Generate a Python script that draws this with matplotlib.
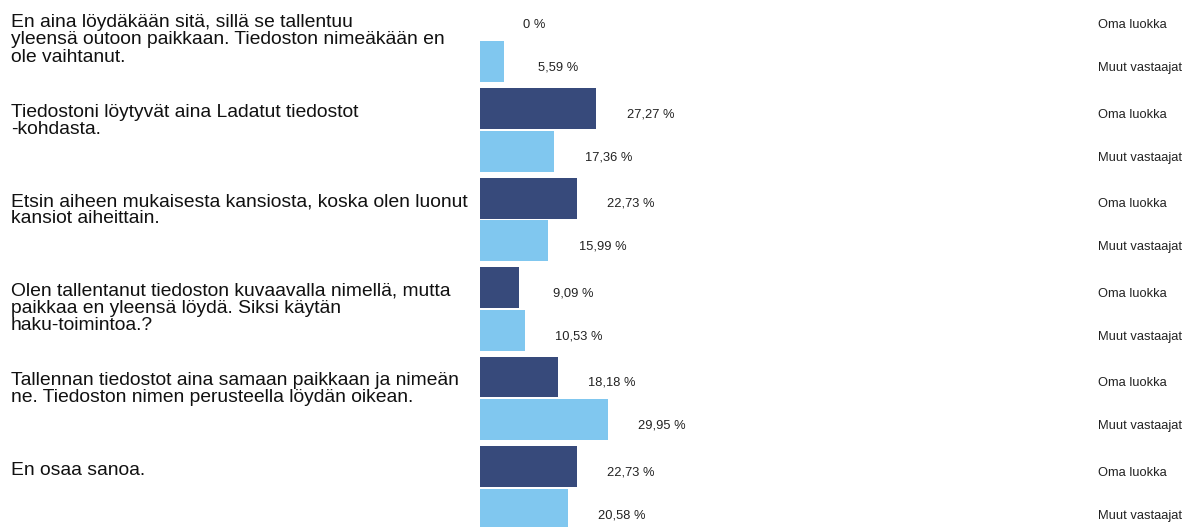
import numpy as np
import matplotlib
matplotlib.use("Agg")
from matplotlib import pyplot as plt
import matplotlib.transforms as mtransforms

plt.rcParams['font.family'] = ['Liberation Sans', 'DejaVu Sans']

# Answer options and the share (%) for the own class vs. other respondents
categories = [
    "En aina löydäkään sitä, sillä se tallentuu\nyleensä outoon paikkaan. Tiedoston nimeäkään en\nole vaihtanut.",
    "Tiedostoni löytyvät aina Ladatut tiedostot\n-kohdasta.",
    "Etsin aiheen mukaisesta kansiosta, koska olen luonut\nkansiot aiheittain.",
    "Olen tallentanut tiedoston kuvaavalla nimellä, mutta\npaikkaa en yleensä löydä. Siksi käytän\nhaku-toimintoa.?",
    "Tallennan tiedostot aina samaan paikkaan ja nimeän\nne. Tiedoston nimen perusteella löydän oikean.",
    "En osaa sanoa.",
]
own_class = [0, 27.27, 22.73, 9.09, 18.18, 22.73]
others = [5.59, 17.36, 15.99, 10.53, 29.95, 20.58]
series_names = ["Oma luokka", "Muut vastaajat"]

dark = "#374a7b"
light = "#80c7ef"

W, H = 1185, 527
fig = plt.figure(figsize=(W / 100, H / 100), dpi=100)
ax = fig.add_axes([480 / W, 0, 1 - 480 / W, 1])
ax.axis("off")

y = np.arange(len(categories))
off = 0.24
h = 0.458
ax.barh(y - off, own_class, height=h, color=dark)
ax.barh(y + off, others, height=h, color=light)
ax.set_xlim(0, (W - 480) / 4.27)
ax.set_ylim(5.436, -0.4525)

def fmt(v):
    if v == 0:
        return "0 %"
    return f"{v:.2f}".replace(".", ",") + " %"

for yi, vals in ((y - off, own_class), (y + off, others)):
    for yy, v in zip(yi, vals):
        ax.annotate(fmt(v), (v, yy), xytext=(39, -4), textcoords="offset points",
                    ha="center", va="center", fontsize=9.3, color="#222222")

# series names on the far right
right = mtransforms.blended_transform_factory(fig.transFigure, ax.transData)
for yy in y:
    ax.text(1098 / W, yy - off + 0.07, series_names[0], transform=right, ha="left",
            va="center", fontsize=9.3, color="#222222")
    ax.text(1098 / W, yy + off + 0.07, series_names[1], transform=right, ha="left",
            va="center", fontsize=9.3, color="#222222")

# category labels on the left
for yy, lab in zip(y, categories):
    ax.text(11 / W, yy - 0.295, lab, transform=right, ha="left", va="top",
            fontsize=13.9, linespacing=1.03, color="#111111")

fig.savefig("out.png", dpi=100)
